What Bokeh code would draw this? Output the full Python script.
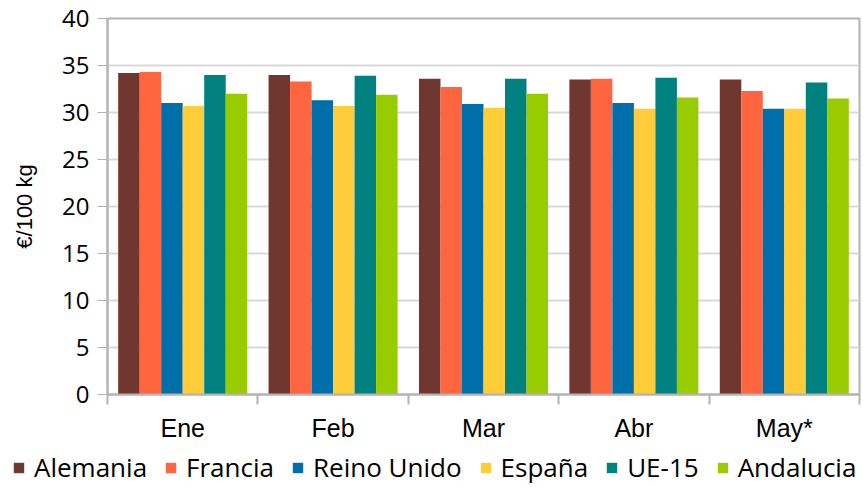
from bokeh.plotting import figure
from bokeh.models import ColumnDataSource, FixedTicker, Legend, LegendItem, Range1d
from bokeh.embed import file_html
from bokeh.resources import INLINE
from bokeh.transform import dodge

months = ["Ene", "Feb", "Mar", "Abr", "May*"]
series = ["Alemania", "Francia", "Reino Unido", "España", "UE-15", "Andalucia"]
alemania = [34.2, 34.0, 33.6, 33.5, 33.5]
francia = [34.3, 33.3, 32.7, 33.6, 32.3]
reino_unido = [31.0, 31.3, 30.9, 31.0, 30.4]
espana = [30.7, 30.7, 30.5, 30.4, 30.4]
ue15 = [34.0, 33.9, 33.6, 33.7, 33.2]
andalucia = [32.0, 31.9, 32.0, 31.6, 31.5]
colors = ["#703630", "#FF6640", "#006EA8", "#FFCC3A", "#00807F", "#99CC00"]
yticks = [0, 5, 10, 15, 20, 25, 30, 35, 40]

values = [alemania, francia, reino_unido, espana, ue15, andalucia]
xc = [i + 0.5 for i in range(len(months))]
data = {"x": xc}
for s, v in zip(series, values):
    data[s] = v
src = ColumnDataSource(data)

FONT = "Open Sans"

p = figure(width=863, height=449, output_backend="svg", toolbar_location=None,
           x_range=Range1d(0, len(months)), y_range=Range1d(0, 40),
           min_border_left=107, min_border_right=4, min_border_top=18, min_border_bottom=55)

bw = 0.143
for k, (s, c) in enumerate(zip(series, colors)):
    off = (k - 2.5) * bw
    p.vbar(x=dodge("x", off, range=p.x_range), top=s, width=bw, source=src,
           fill_color=c, line_color=None)

# axes
p.xaxis.ticker = FixedTicker(ticks=xc, minor_ticks=list(range(len(months) + 1)))
p.xaxis.major_label_overrides = {x: m for x, m in zip(xc, months)}
p.xaxis.major_tick_line_color = None
p.xaxis.minor_tick_line_color = "#b3b3b3"
p.xaxis.minor_tick_line_width = 2
p.xaxis.minor_tick_out = 10
p.xaxis.minor_tick_in = 0
p.xaxis.axis_line_color = "#b3b3b3"
p.xaxis.axis_line_width = 2
p.xaxis.major_label_text_font = "Liberation Sans"
p.xaxis.major_label_text_font_size = "25px"
p.xaxis.major_label_text_color = "#000000"
p.xaxis.major_label_standoff = 9

p.yaxis.ticker = FixedTicker(ticks=yticks)
p.yaxis.major_tick_line_color = "#b3b3b3"
p.yaxis.major_tick_out = 10
p.yaxis.major_tick_in = 0
p.yaxis.minor_tick_line_color = None
p.yaxis.axis_line_color = "#b3b3b3"
p.yaxis.axis_line_width = 2
p.yaxis.major_label_text_font = FONT
p.yaxis.major_label_text_font_size = "24px"
p.yaxis.major_label_text_color = "#000000"
p.yaxis.major_label_standoff = 8
p.yaxis.axis_label = "€/100 kg"
p.yaxis.axis_label_text_font = "Liberation Sans"
p.yaxis.axis_label_text_font_size = "22px"
p.yaxis.axis_label_text_font_style = "normal"
p.yaxis.axis_label_text_color = "#000000"
p.yaxis.axis_label_standoff = 22

p.xgrid.grid_line_color = None
p.ygrid.grid_line_color = "#d9d9d9"
p.ygrid.grid_line_width = 2
p.outline_line_color = "#b3b3b3"
p.outline_line_width = 2
p.background_fill_color = "white"
p.border_fill_color = "white"

# legend strip below the chart (separate root, so its frame starts at x=0)
lg = figure(width=863, height=38, output_backend="svg", toolbar_location=None,
            x_range=Range1d(0, 1), y_range=Range1d(0, 1),
            x_axis_location=None, y_axis_location=None,
            min_border_left=0, min_border_right=0, min_border_top=0, min_border_bottom=0)
lg.grid.visible = False
lg.outline_line_color = None
items = []
for s, c in zip(series, colors):
    r = lg.vbar(x=[-10], top=[-10], width=0.1, fill_color=c, line_color=None)
    items.append(LegendItem(label=s, renderers=[r]))
legend = Legend(items=items, orientation="horizontal", location=(12, 2),
                label_text_font=FONT, label_text_font_size="26px",
                label_text_color="#000000", label_height=26, label_text_baseline="middle",
                glyph_width=13, glyph_height=13, spacing=17, label_standoff=9,
                padding=0, margin=0, border_line_color=None,
                background_fill_alpha=0)
lg.add_layout(legend, "center")

open("out.html", "w").write(file_html([p, lg], INLINE))
